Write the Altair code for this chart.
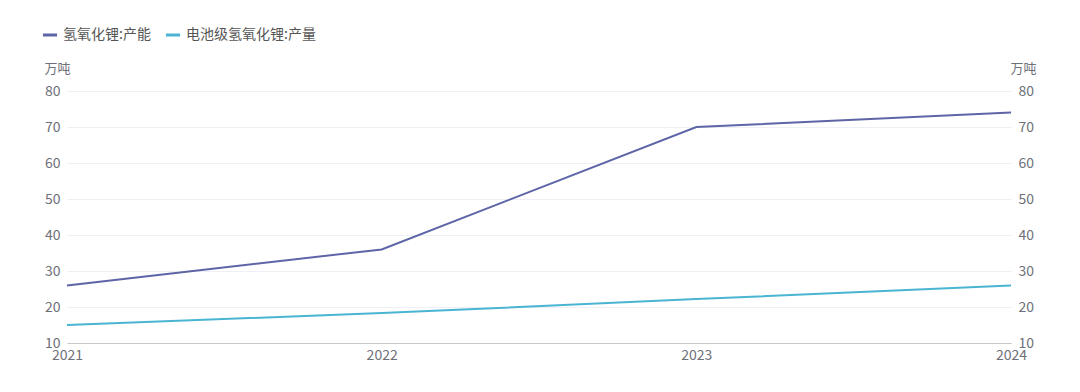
import altair as alt
import pandas as pd

years = [2021, 2022, 2023, 2024]
series_names = ["氢氧化锂:产能", "电池级氢氧化锂:产量"]
capacity = [26, 36, 70, 74]
output = [15, 18.3, 22.2, 26]
colors = ["#5d65a6", "#4ab5d3"]

rows = []
for y, v in zip(years, capacity):
    rows.append({"year": y, "value": v, "series": series_names[0]})
for y, v in zip(years, output):
    rows.append({"year": y, "value": v, "series": series_names[1]})
df = pd.DataFrame(rows)

FONT = "Noto Sans CJK SC"
LABEL_COLOR = "#6e7079"

x_enc = alt.X("year:Q", scale=alt.Scale(domain=[2021, 2024], nice=False, zero=False),
              axis=alt.Axis(values=years, format="d", title=None, labelFlush=False,
                            ticks=False, grid=False, domainColor="#c8c8cc", labelPadding=5,
                            labelFontSize=14, labelColor=LABEL_COLOR, labelFont=FONT))
color_enc = alt.Color("series:N", scale=alt.Scale(domain=series_names, range=colors),
                      legend=alt.Legend(orient="none", legendX=-26, legendY=-65, direction="horizontal",
                                        title=None, symbolType="stroke", symbolStrokeWidth=3,
                                        symbolSize=200, labelFont=FONT, labelFontSize=14,
                                        labelColor="#555", columnPadding=8, symbolOffset=0))
y_scale = alt.Scale(domain=[10, 80], nice=False, zero=False)

left = alt.Chart(df).mark_line(strokeWidth=2).encode(
    x=x_enc,
    y=alt.Y("value:Q", scale=y_scale,
            axis=alt.Axis(orient="left", values=[10, 20, 30, 40, 50, 60, 70, 80], title="万吨",
                          titleAngle=0, titleAlign="right", titleX=3, titleY=-16,
                          titleFont=FONT, titleFontSize=13, titleFontWeight="normal", titleColor=LABEL_COLOR,
                          domain=False, ticks=False, grid=True, gridColor="#eef0f5",
                          labelPadding=7, labelFontSize=14, labelColor=LABEL_COLOR, labelFont=FONT)),
    color=color_enc,
)
right = alt.Chart(df).mark_line(strokeWidth=2, strokeOpacity=0).encode(
    x=x_enc,
    y=alt.Y("value:Q", scale=y_scale,
            axis=alt.Axis(orient="right", values=[10, 20, 30, 40, 50, 60, 70, 80], title="万吨",
                          titleAngle=0, titleAlign="left", titleX=-1, titleY=-16,
                          titleFont=FONT, titleFontSize=13, titleFontWeight="normal", titleColor=LABEL_COLOR,
                          domain=False, ticks=False, grid=False,
                          labelPadding=7, labelFontSize=14, labelColor=LABEL_COLOR, labelFont=FONT)),
    color=color_enc,
)

chart = alt.layer(left, right).resolve_axis(y="independent").properties(
    width=944, height=252,
    background="white",
    autosize=alt.AutoSizeParams(type="none"),
    padding={"left": 59, "top": 83, "right": 60, "bottom": 40},
).configure_view(stroke="transparent", strokeWidth=0)

chart.save("out.html", embed_options={"renderer": "svg", "actions": False})
